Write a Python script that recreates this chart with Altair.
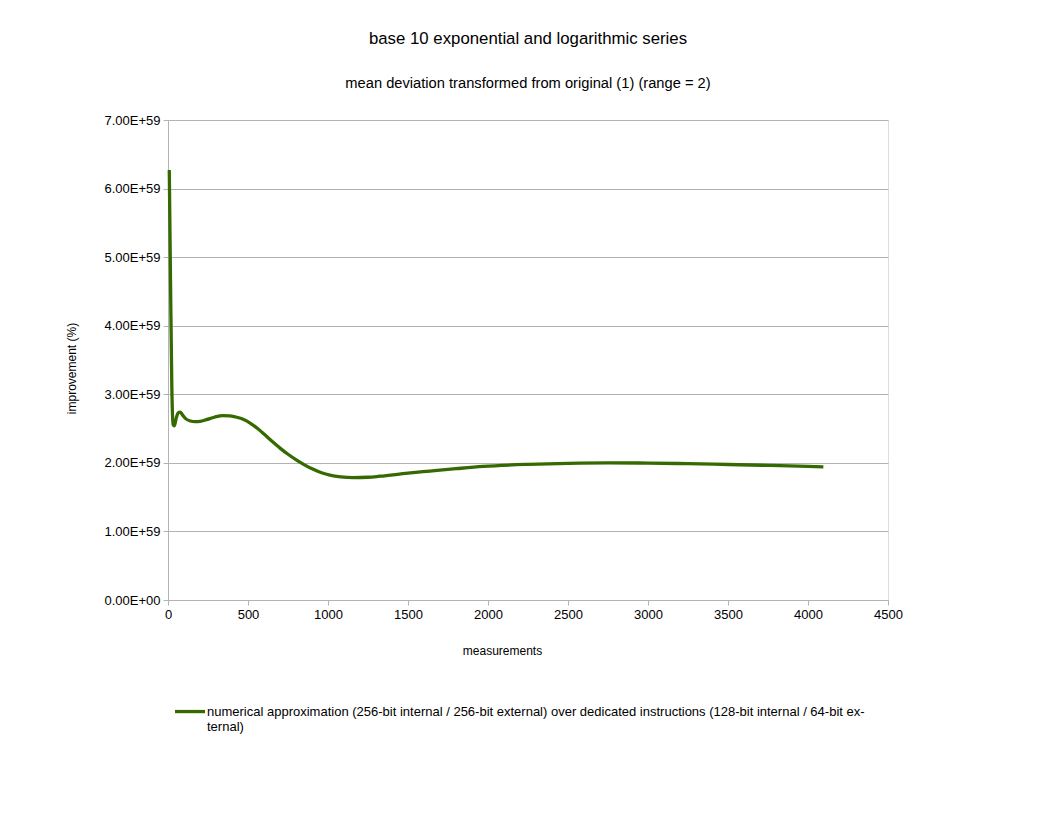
import altair as alt
import pandas as pd

series_name = "numerical approximation (256-bit internal / 256-bit external) over dedicated instructions (128-bit internal / 64-bit external)"
legend_lines = ["numerical approximation (256-bit internal / 256-bit external) over dedicated instructions (128-bit internal / 64-bit ex-", "ternal)"]

measurements = [8, 16, 24, 32, 40, 52, 64, 76, 90, 110, 140, 170, 200, 240, 290, 340, 387, 430, 470, 520, 560, 600, 650, 700, 750, 804, 850, 908, 960, 1012, 1080, 1158, 1250, 1325, 1500, 1637, 1800, 1969, 2250, 2500, 2750, 3000, 3250, 3500, 3750, 4000, 4096]
improvement = [6.27e59, 4.6e59, 3.1e59, 2.56e59, 2.54e59, 2.66e59, 2.73e59, 2.74e59, 2.70e59, 2.645e59, 2.61e59, 2.60e59, 2.605e59, 2.63e59, 2.665e59, 2.69e59, 2.685e59, 2.665e59, 2.635e59, 2.57e59, 2.50e59, 2.42e59, 2.315e59, 2.215e59, 2.125e59, 2.04e59, 1.975e59, 1.905e59, 1.855e59, 1.82e59, 1.795e59, 1.785e59, 1.79e59, 1.805e59, 1.85e59, 1.88e59, 1.915e59, 1.948e59, 1.978e59, 1.993e59, 2.0e59, 1.997e59, 1.988e59, 1.976e59, 1.963e59, 1.948e59, 1.94e59]

y_ticks = [0, 1e59, 2e59, 3e59, 4e59, 5e59, 6e59, 7e59]
x_ticks = [0, 500, 1000, 1500, 2000, 2500, 3000, 3500, 4000, 4500]

df = pd.DataFrame({"measurements": measurements, "improvement": improvement, "series": series_name})

FONT = "Liberation Sans"
GRID = "#b3b3b3"
GREEN = "#356a00"

chart = alt.Chart(df).mark_line(strokeWidth=3.3, interpolate="monotone").encode(
    x=alt.X("measurements:Q",
            scale=alt.Scale(domain=[0, 4500], nice=False, zero=True),
            axis=alt.Axis(values=x_ticks, grid=False, title="measurements", format="d",
                          labelFont=FONT, labelFontSize=13, labelColor="black",
                          titleFont=FONT, titleFontSize=12, titleFontWeight="normal", titleColor="black",
                          tickColor=GRID, domainColor=GRID, tickSize=5, labelPadding=3,
                          titleX=334, titleY=50, titleAlign="center", titleBaseline="middle",
                          labelFlush=False)),
    y=alt.Y("improvement:Q",
            scale=alt.Scale(domain=[0, 7e59], nice=False),
            axis=alt.Axis(values=y_ticks, grid=True, gridColor=GRID, title="improvement (%)",
                          labelExpr="datum.value == 0 ? '0.00E+00' : replace(format(datum.value, '.2e'), 'e', 'E')",
                          labelFont=FONT, labelFontSize=13, labelColor="black",
                          titleFont=FONT, titleFontSize=12, titleFontWeight="normal", titleColor="black",
                          tickColor=GRID, domainColor=GRID, tickSize=5, labelPadding=3,
                          titleX=-97, titleY=248, titleAlign="center", titleBaseline="middle",
                          labelFlush=False)),
    color=alt.Color("series:N",
                    scale=alt.Scale(domain=[series_name], range=[GREEN]),
                    legend=alt.Legend(orient="none", legendX=5, legendY=569, title=None,
                                      symbolType="M-1,0.37L1,0.37", symbolSize=900, symbolStrokeWidth=3.3,
                                      labelExpr=str(legend_lines),
                                      labelFont=FONT, labelFontSize=13, labelColor="black",
                                      labelLimit=2000, labelOffset=0, labelBaseline="top")),
).properties(
    width=720,
    height=480,
    title=alt.TitleParams(
        text="base 10 exponential and logarithmic series",
        subtitle="mean deviation transformed from original (1) (range = 2)",
        font=FONT, fontSize=16.8, fontWeight="normal", color="black",
        subtitleFont=FONT, subtitleFontSize=14.7, subtitleColor="black",
        subtitlePadding=29, offset=23, anchor="middle",
    ),
    autosize=alt.AutoSizeParams(type="none"),
    padding={"left": 160, "top": 112, "right": 150, "bottom": 200},
).configure_view(
    stroke=GRID, strokeWidth=1
).configure(background="white")

chart.save("out.html", embed_options={"renderer": "svg", "actions": False})
